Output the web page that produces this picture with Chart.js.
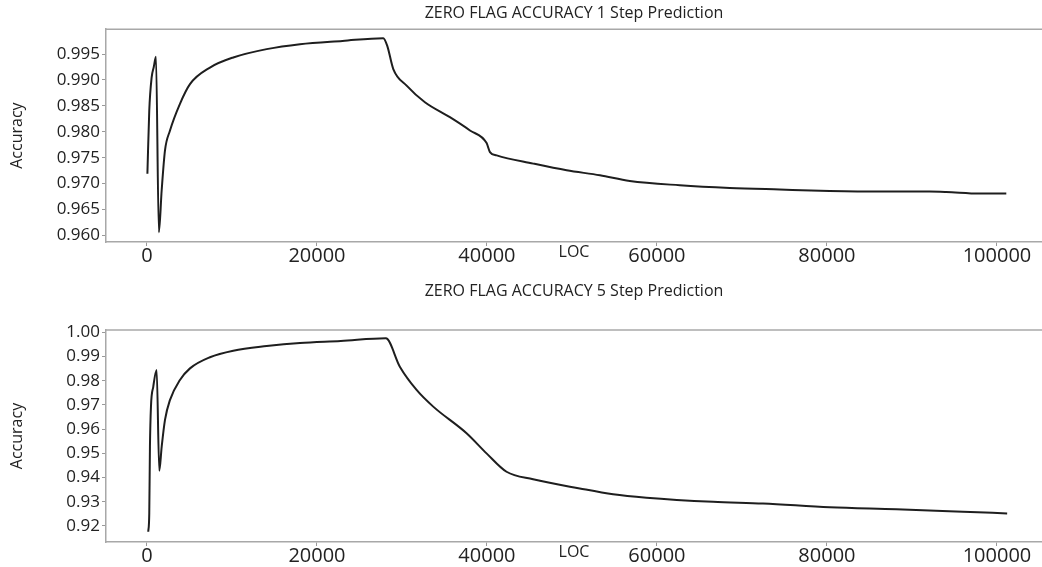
<!DOCTYPE html>
<html>
<head>
<meta charset="utf-8">
<script src="https://cdn.jsdelivr.net/npm/chart.js@4"></script>
<style>
  body { margin: 0; background: #fff; width: 1042px; height: 567px; overflow: hidden; position: relative; }
  canvas { position: absolute; left: 0; }
  #c1 { top: 0; }
  #c2 { top: 280px; }
</style>
</head>
<body>
<canvas id="c1" width="1042" height="282"></canvas>
<canvas id="c2" width="1042" height="302"></canvas>
<script>
// 1 step prediction
let loc1 = [50, 270, 550, 800, 1060, 1400, 1730, 2120, 2700, 3880, 5060, 7410, 10150, 14080, 18000, 23000, 27800,
            28270, 28980, 30550, 32700, 35640, 38000, 39960, 40350, 41140, 45450, 49370, 53290, 56800, 62680,
            68560, 74440, 80320, 86200, 92080, 94040, 97960, 101100];
let acc1 = [0.9719, 0.9841, 0.9905, 0.9925, 0.9945, 0.9606, 0.9687, 0.9764, 0.9802, 0.9854, 0.9892, 0.9924, 0.99435, 0.99596, 0.99692, 0.99755, 0.99808,
            0.9966, 0.99212, 0.9889, 0.98569, 0.98281, 0.98025, 0.97781, 0.97608, 0.97544, 0.97385, 0.97256, 0.9716, 0.9705, 0.96967,
            0.96915, 0.96885, 0.96858, 0.96846, 0.96846, 0.96838, 0.96808, 0.96808];

// 5 step prediction
let loc5 = [150, 270, 350, 470, 740, 1140, 1450, 1730, 2120, 2700, 3880, 5060, 7410, 10150, 14080, 18000, 22800, 28100,
            29750, 31720, 33680, 37600, 39950, 42300, 45430, 50920, 54840, 58760, 66600, 72480, 80320, 88160, 96000, 101200];
let acc5 = [0.9176, 0.9252, 0.9527, 0.9693, 0.9775, 0.9844, 0.9428, 0.9527, 0.9638, 0.9720, 0.9803, 0.9851, 0.9897, 0.9924, 0.9943, 0.9956, 0.9964, 0.9975,
            0.9858, 0.9762, 0.9693, 0.9583, 0.9500, 0.9424, 0.9393, 0.9355, 0.9331, 0.9317, 0.9300, 0.9293, 0.9277, 0.9269, 0.9259, 0.9252];

let xTicks = [0, 20000, 40000, 60000, 80000, 100000];
let yTicks1 = [0.960, 0.965, 0.970, 0.975, 0.980, 0.985, 0.990, 0.995];
let yTicks5 = [0.92, 0.93, 0.94, 0.95, 0.96, 0.97, 0.98, 0.99, 1.00];

function pontos(xs, ys){
    return xs.map((x, i) => ({x: x, y: ys[i]}));
}

// linha cinza no topo da area do grafico
let bordaTopo = {
    id: 'bordaTopo',
    afterDraw(chart){
        let a = chart.chartArea;
        let ctx = chart.ctx;
        ctx.save();
        ctx.strokeStyle = '#a8a8a8';
        ctx.lineWidth = 1.5;
        ctx.beginPath();
        ctx.moveTo(a.left, a.top);
        ctx.lineTo(a.right, a.top);
        ctx.stroke();
        ctx.restore();
    }
};

function grafico(ctx, titulo, xs, ys, yTicks, ymin, ymax, casas, padTitulo){
    return new Chart(ctx, {
        type: 'line',
        data: {
            datasets: [{
                data: pontos(xs, ys),
                borderColor: '#1e1e1e',
                borderWidth: 2,
                pointRadius: 0,
                fill: false,
                cubicInterpolationMode: 'monotone'
            }]
        },
        options: {
            responsive: false,
            animation: false,
            devicePixelRatio: 1,
            layout: { padding: 0 },
            plugins: {
                legend: { display: false },
                tooltip: { enabled: false },
                title: {
                    display: true,
                    text: titulo,
                    fullSize: false,
                    color: '#222',
                    font: { family: 'Open Sans', size: 16, weight: 'normal' },
                    padding: padTitulo
                }
            },
            scales: {
                x: {
                    type: 'linear',
                    min: -4820,
                    max: 105300,
                    afterFit(s){ s.height = 40; },
                    afterBuildTicks(s){ s.ticks = xTicks.map(v => ({value: v})); },
                    ticks: {
                        callback: v => String(v),
                        font: { family: 'Open Sans', size: 20 },
                        color: '#222',
                        padding: -2,
                        maxRotation: 0,
                        autoSkip: false
                    },
                    grid: { drawOnChartArea: false, tickLength: 4, color: '#999' },
                    border: { color: '#a8a8a8', width: 1.5 },
                    title: {
                        display: true,
                        text: 'LOC',
                        color: '#222',
                        font: { family: 'Open Sans', size: 16 },
                        padding: { top: 0, bottom: 20.4 }
                    }
                },
                y: {
                    min: ymin,
                    max: ymax,
                    afterFit(s){ s.width = 106; },
                    afterBuildTicks(s){ s.ticks = yTicks.map(v => ({value: v})); },
                    ticks: {
                        callback: v => v.toFixed(casas),
                        font: { family: 'Open Sans', size: 17 },
                        color: '#222',
                        padding: 2,
                        autoSkip: false
                    },
                    grid: { drawOnChartArea: false, tickLength: 4, color: '#999' },
                    border: { color: '#a8a8a8', width: 1.5 },
                    title: {
                        display: true,
                        text: 'Accuracy',
                        color: '#222',
                        font: { family: 'Open Sans', size: 16 },
                        padding: { top: 7.4, bottom: 0 }
                    }
                }
            }
        },
        plugins: [bordaTopo]
    });
}

let chart1 = grafico(document.getElementById('c1'), 'ZERO FLAG ACCURACY 1 Step Prediction',
    loc1, acc1, yTicks1, 0.95871, 0.99981, 3, { top: 4, bottom: 6 });
let chart5 = grafico(document.getElementById('c2'), 'ZERO FLAG ACCURACY 5 Step Prediction',
    loc5, acc5, yTicks5, 0.91339, 1.00095, 2, { top: 1.4, bottom: 29.4 });
</script>
</body>
</html>
